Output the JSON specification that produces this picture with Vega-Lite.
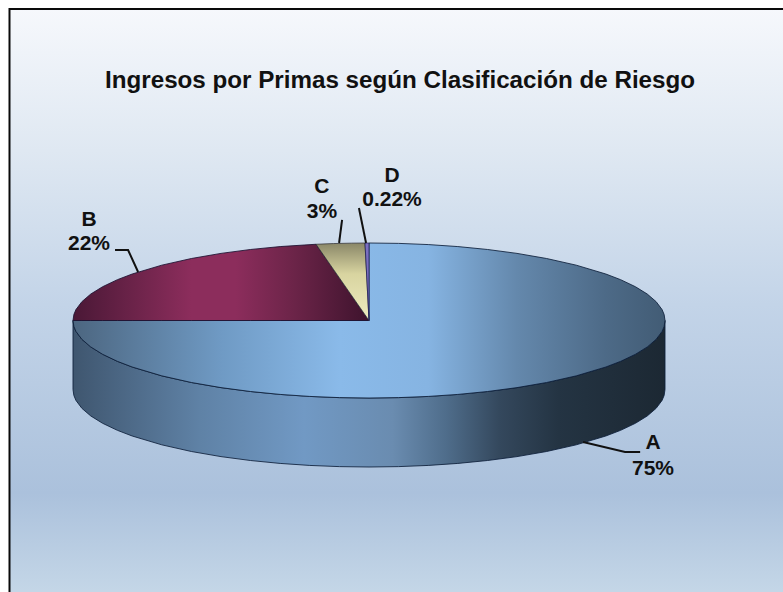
{
"$schema":"https://vega.github.io/schema/vega-lite/v6.json",
"width":783,"height":592,"padding":0,"autosize":{"type":"none"},"background":"#ffffff",
"config":{"view":{"stroke":null}},
"title":{"text":"Ingresos por Primas según Clasificación de Riesgo","orient":"top","anchor":"start","frame":"group","offset":-93,"dx":105,"font":"Liberation Sans","fontWeight":"bold","fontSize":24.2,"color":"#111111"},
"datasets":{
"frame":[{"u":-1.2145,"u2":1.45,"v":4.019,"v2":-3.6}],
"surface":[
{"part":"wall","u":-1,"v":0,"v2":-0.8903},{"part":"wall","u":-0.997,"v":-0.0774,"v2":-0.9677},{"part":"wall","u":-0.99,"v":-0.1411,"v2":-1.0314},{"part":"wall","u":-0.97,"v":-0.2431,"v2":-1.1334},{"part":"wall","u":-0.94,"v":-0.3412,"v2":-1.2315},{"part":"wall","u":-0.9,"v":-0.4359,"v2":-1.3262},{"part":"wall","u":-0.85,"v":-0.5268,"v2":-1.4171},{"part":"wall","u":-0.8,"v":-0.6,"v2":-1.4903},{"part":"wall","u":-0.7,"v":-0.7141,"v2":-1.6044},{"part":"wall","u":-0.6,"v":-0.8,"v2":-1.6903},{"part":"wall","u":-0.5,"v":-0.866,"v2":-1.7563},{"part":"wall","u":-0.4,"v":-0.9165,"v2":-1.8068},{"part":"wall","u":-0.3,"v":-0.9539,"v2":-1.8442},{"part":"wall","u":-0.2,"v":-0.9798,"v2":-1.8701},{"part":"wall","u":-0.1,"v":-0.995,"v2":-1.8853},{"part":"wall","u":0,"v":-1,"v2":-1.8903},{"part":"wall","u":0.1,"v":-0.995,"v2":-1.8853},{"part":"wall","u":0.2,"v":-0.9798,"v2":-1.8701},{"part":"wall","u":0.3,"v":-0.9539,"v2":-1.8442},{"part":"wall","u":0.4,"v":-0.9165,"v2":-1.8068},{"part":"wall","u":0.5,"v":-0.866,"v2":-1.7563},{"part":"wall","u":0.6,"v":-0.8,"v2":-1.6903},{"part":"wall","u":0.7,"v":-0.7141,"v2":-1.6044},{"part":"wall","u":0.8,"v":-0.6,"v2":-1.4903},{"part":"wall","u":0.85,"v":-0.5268,"v2":-1.4171},{"part":"wall","u":0.9,"v":-0.4359,"v2":-1.3262},{"part":"wall","u":0.94,"v":-0.3412,"v2":-1.2315},{"part":"wall","u":0.97,"v":-0.2431,"v2":-1.1334},{"part":"wall","u":0.99,"v":-0.1411,"v2":-1.0314},{"part":"wall","u":0.997,"v":-0.0774,"v2":-0.9677},{"part":"wall","u":1,"v":0,"v2":-0.8903},
{"part":"A","u":-1,"v":0,"v2":0},{"part":"A","u":-0.997,"v":0,"v2":-0.0774},{"part":"A","u":-0.99,"v":0,"v2":-0.1411},{"part":"A","u":-0.97,"v":0,"v2":-0.2431},{"part":"A","u":-0.94,"v":0,"v2":-0.3412},{"part":"A","u":-0.9,"v":0,"v2":-0.4359},{"part":"A","u":-0.85,"v":0,"v2":-0.5268},{"part":"A","u":-0.8,"v":0,"v2":-0.6},{"part":"A","u":-0.7,"v":0,"v2":-0.7141},{"part":"A","u":-0.6,"v":0,"v2":-0.8},{"part":"A","u":-0.5,"v":0,"v2":-0.866},{"part":"A","u":-0.4,"v":0,"v2":-0.9165},{"part":"A","u":-0.3,"v":0,"v2":-0.9539},{"part":"A","u":-0.2,"v":0,"v2":-0.9798},{"part":"A","u":-0.1,"v":0,"v2":-0.995},{"part":"A","u":0,"v":0,"v2":-1},{"part":"A","u":0.0001,"v":1,"v2":-1},{"part":"A","u":0.1,"v":0.995,"v2":-0.995},{"part":"A","u":0.2,"v":0.9798,"v2":-0.9798},{"part":"A","u":0.3,"v":0.9539,"v2":-0.9539},{"part":"A","u":0.4,"v":0.9165,"v2":-0.9165},{"part":"A","u":0.5,"v":0.866,"v2":-0.866},{"part":"A","u":0.6,"v":0.8,"v2":-0.8},{"part":"A","u":0.7,"v":0.7141,"v2":-0.7141},{"part":"A","u":0.8,"v":0.6,"v2":-0.6},{"part":"A","u":0.85,"v":0.5268,"v2":-0.5268},{"part":"A","u":0.9,"v":0.4359,"v2":-0.4359},{"part":"A","u":0.94,"v":0.3412,"v2":-0.3412},{"part":"A","u":0.97,"v":0.2431,"v2":-0.2431},{"part":"A","u":0.99,"v":0.1411,"v2":-0.1411},{"part":"A","u":0.997,"v":0.0774,"v2":-0.0774},{"part":"A","u":1,"v":0,"v2":0},
{"part":"B","u":-1,"v":0,"v2":0},{"part":"B","u":-0.997,"v":0.0774,"v2":0},{"part":"B","u":-0.99,"v":0.1411,"v2":0},{"part":"B","u":-0.97,"v":0.2431,"v2":0},{"part":"B","u":-0.94,"v":0.3412,"v2":0},{"part":"B","u":-0.9,"v":0.4359,"v2":0},{"part":"B","u":-0.85,"v":0.5268,"v2":0},{"part":"B","u":-0.8,"v":0.6,"v2":0},{"part":"B","u":-0.7,"v":0.7141,"v2":0},{"part":"B","u":-0.6,"v":0.8,"v2":0},{"part":"B","u":-0.5,"v":0.866,"v2":0},{"part":"B","u":-0.4,"v":0.9165,"v2":0},{"part":"B","u":-0.3,"v":0.9539,"v2":0},{"part":"B","u":-0.179,"v":0.9838,"v2":0},{"part":"B","u":0,"v":0,"v2":0},
{"part":"C","u":-0.179,"v":0.9838,"v2":0.9838},{"part":"C","u":-0.12,"v":0.9928,"v2":0.6595},{"part":"C","u":-0.06,"v":0.9982,"v2":0.3298},{"part":"C","u":-0.0135,"v":0.9999,"v2":0.0742},{"part":"C","u":0,"v":0,"v2":0},
{"part":"D","u":-0.0135,"v":0.9999,"v2":0.9999},{"part":"D","u":0,"v":1,"v2":0}
],
"leaders":[
{"label":"B","step":1,"u":-0.858,"v":0.91},{"label":"B","step":2,"u":-0.814,"v":0.91},{"label":"B","step":3,"u":-0.78,"v":0.626},
{"label":"C","step":1,"u":-0.091,"v":1.297},{"label":"C","step":2,"u":-0.101,"v":1},
{"label":"D","step":1,"u":-0.034,"v":1.452},{"label":"D","step":2,"u":-0.01,"v":1},
{"label":"A","step":1,"u":0.916,"v":-1.697},{"label":"A","step":2,"u":0.865,"v":-1.697},{"label":"A","step":3,"u":0.723,"v":-1.568}
],
"labels":[
{"text":"A","u":0.9595,"v":-1.581},{"text":"75%","u":0.9595,"v":-1.916},
{"text":"B","u":-0.946,"v":1.297},{"text":"22%","u":-0.946,"v":0.987},
{"text":"C","u":-0.159,"v":1.723},{"text":"3%","u":-0.159,"v":1.4},
{"text":"D","u":0.0777,"v":1.865},{"text":"0.22%","u":0.0777,"v":1.555}
]
},
"encoding":{
"x":{"field":"u","type":"quantitative","scale":{"domain":[-1.2466,1.3986],"nice":false,"zero":false},"axis":null},
"y":{"field":"v","type":"quantitative","scale":{"domain":[-3.5032,4.1355],"nice":false,"zero":false},"axis":null}
},
"layer":[
{"data":{"name":"frame"},"mark":{"type":"rect","clip":false,"stroke":"#0a0a0a","strokeWidth":2,"fill":{"gradient":"linear","x1":0,"x2":0,"y1":0,"y2":1,"stops":[{"offset":0,"color":"#f6f8fc"},{"offset":0.24,"color":"#dfe8f2"},{"offset":0.5,"color":"#c3d4e8"},{"offset":0.82,"color":"#abc1dc"},{"offset":1,"color":"#c6d8e8"}]}},
 "encoding":{"x2":{"field":"u2"},"y2":{"field":"v2"}}},
{"data":{"name":"surface"},"transform":[{"filter":"datum.part==='wall'"}],"mark":{"type":"area","stroke":"#0d1f3a","strokeWidth":1,"strokeOpacity":0.85,"fill":{"gradient":"linear","x1":0,"x2":1,"y1":0,"y2":0,"stops":[{"offset":0,"color":"#3f566f"},{"offset":0.215,"color":"#5f82a6"},{"offset":0.39,"color":"#7199c4"},{"offset":0.54,"color":"#6a8cb0"},{"offset":0.63,"color":"#4f6d8b"},{"offset":0.72,"color":"#34485d"},{"offset":0.82,"color":"#243443"},{"offset":1,"color":"#1c2833"}]}},
 "encoding":{"y2":{"field":"v2"}}},
{"data":{"name":"surface"},"transform":[{"filter":"datum.part==='A'"}],"mark":{"type":"area","stroke":"#0d1f3a","strokeWidth":1,"strokeOpacity":0.85,"fill":{"gradient":"linear","x1":0,"x2":1,"y1":0,"y2":0,"stops":[{"offset":0,"color":"#4c6680"},{"offset":0.25,"color":"#6f9ac4"},{"offset":0.45,"color":"#8abae9"},{"offset":0.6,"color":"#86b4e2"},{"offset":0.75,"color":"#6488ac"},{"offset":0.9,"color":"#4d6a87"},{"offset":1,"color":"#425c75"}]}},
 "encoding":{"y2":{"field":"v2"}}},
{"data":{"name":"surface"},"transform":[{"filter":"datum.part==='B'"}],"mark":{"type":"area","stroke":"#1c1030","strokeWidth":1,"strokeOpacity":0.85,"fill":{"gradient":"linear","x1":0,"x2":1,"y1":0,"y2":0,"stops":[{"offset":0,"color":"#4a1836"},{"offset":0.2,"color":"#6b2349"},{"offset":0.4,"color":"#8c2d5c"},{"offset":0.55,"color":"#8c2d5c"},{"offset":0.75,"color":"#6b2448"},{"offset":1,"color":"#3e132d"}]}},
 "encoding":{"y2":{"field":"v2"}}},
{"data":{"name":"surface"},"transform":[{"filter":"datum.part==='C'"}],"mark":{"type":"area","stroke":"#2a2a30","strokeWidth":0.7,"fill":{"gradient":"linear","x1":0,"x2":0,"y1":0,"y2":1,"stops":[{"offset":0,"color":"#8a8768"},{"offset":0.4,"color":"#d8d4a0"},{"offset":1,"color":"#f0ecc0"}]}},
 "encoding":{"y2":{"field":"v2"}}},
{"data":{"name":"surface"},"transform":[{"filter":"datum.part==='D'"}],"mark":{"type":"area","stroke":"#1a1a50","strokeWidth":0.7,"fill":"#7a6fc0"},
 "encoding":{"y2":{"field":"v2"}}},
{"data":{"name":"leaders"},"mark":{"type":"line","stroke":"#111111","strokeWidth":2},
 "encoding":{"detail":{"field":"label"},"order":{"field":"step","type":"ordinal"}}},
{"data":{"name":"labels"},"mark":{"type":"text","font":"Liberation Sans","fontWeight":"bold","fontSize":21,"align":"center","baseline":"middle","fill":"#111111"},
 "encoding":{"text":{"field":"text"}}}
]
}
